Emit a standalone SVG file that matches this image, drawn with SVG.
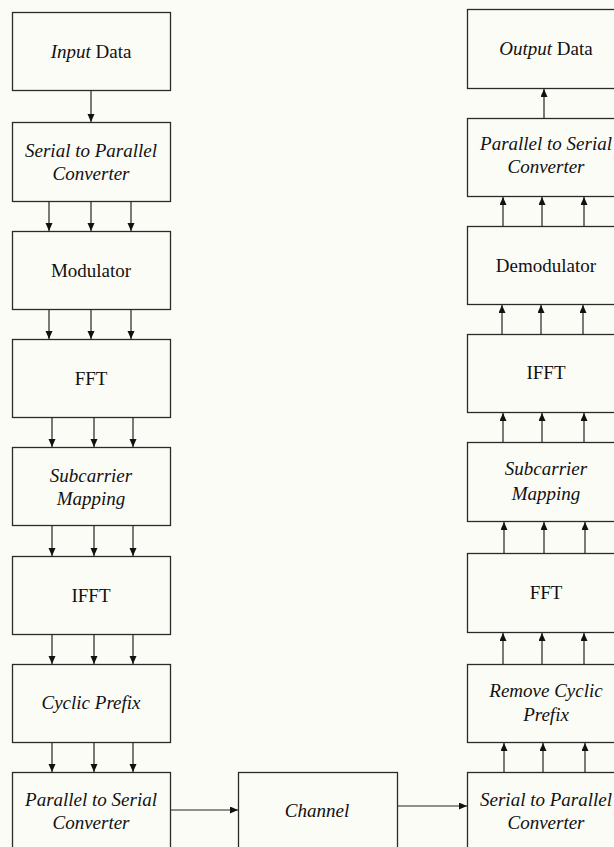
<svg xmlns="http://www.w3.org/2000/svg" width="614" height="847" viewBox="0 0 614 847">
<defs>
<marker id="ah" markerUnits="userSpaceOnUse" markerWidth="8" markerHeight="8" refX="8" refY="3.5" orient="auto">
<path d="M0,0 L8,3.5 L0,7 z" fill="#111"/>
</marker>
<style>
.box{fill:none;stroke:#2a2a2a;stroke-width:1.3}
.t{font-family:"Liberation Serif","Times New Roman",serif;font-size:19px;fill:#111;text-anchor:middle}
.i{font-style:italic}
.c line{stroke:#222;stroke-width:1.2;marker-end:url(#ah)}
</style>
</defs>
<rect x="0" y="0" width="614" height="847" fill="#fcfcf7"/>

<g id="input-data"><rect class="box" x="12.5" y="12.5" width="158" height="78"/><text class="t" x="91" y="58"><tspan class="i">Input</tspan> Data</text></g>
<g id="sp-conv-tx"><rect class="box" x="12.5" y="122.5" width="158" height="79"/><text class="t i" x="91" y="157">Serial to Parallel</text><text class="t i" x="91" y="180">Converter</text></g>
<g id="modulator"><rect class="box" x="12.5" y="231.5" width="158" height="78"/><text class="t" x="91" y="277">Modulator</text></g>
<g id="fft-tx"><rect class="box" x="12.5" y="339.5" width="158" height="78"/><text class="t" x="91" y="385">FFT</text></g>
<g id="subcarrier-tx"><rect class="box" x="12.5" y="447.5" width="158" height="78"/><text class="t i" x="91" y="482">Subcarrier</text><text class="t i" x="91" y="505">Mapping</text></g>
<g id="ifft-tx"><rect class="box" x="12.5" y="556.5" width="158" height="78"/><text class="t" x="91" y="602">IFFT</text></g>
<g id="cyclic-prefix"><rect class="box" x="12.5" y="664.5" width="158" height="78"/><text class="t i" x="91" y="709">Cyclic Prefix</text></g>
<g id="ps-conv-tx"><rect class="box" x="12.5" y="772.5" width="158" height="80"/><text class="t i" x="91" y="806">Parallel to Serial</text><text class="t i" x="91" y="829">Converter</text></g>

<g id="channel"><rect class="box" x="238.5" y="772.5" width="159" height="80"/><text class="t i" x="317" y="817">Channel</text></g>

<g id="output-data"><rect class="box" x="467.5" y="9.5" width="160" height="79"/><text class="t" x="546" y="55"><tspan class="i">Output</tspan> Data</text></g>
<g id="ps-conv-rx"><rect class="box" x="467.5" y="118.5" width="160" height="78"/><text class="t i" x="546" y="150">Parallel to Serial</text><text class="t i" x="546" y="173">Converter</text></g>
<g id="demodulator"><rect class="box" x="467.5" y="226.5" width="160" height="78"/><text class="t" x="546" y="272">Demodulator</text></g>
<g id="ifft-rx"><rect class="box" x="467.5" y="334.5" width="160" height="78"/><text class="t" x="546" y="379">IFFT</text></g>
<g id="subcarrier-rx"><rect class="box" x="467.5" y="442.5" width="160" height="79"/><text class="t i" x="546" y="475">Subcarrier</text><text class="t i" x="546" y="500">Mapping</text></g>
<g id="fft-rx"><rect class="box" x="467.5" y="553.5" width="160" height="79"/><text class="t" x="546" y="599">FFT</text></g>
<g id="remove-cp"><rect class="box" x="467.5" y="664.5" width="160" height="78"/><text class="t i" x="546" y="697">Remove Cyclic</text><text class="t i" x="546" y="721">Prefix</text></g>
<g id="sp-conv-rx"><rect class="box" x="467.5" y="772.5" width="160" height="80"/><text class="t i" x="546" y="806">Serial to Parallel</text><text class="t i" x="546" y="829">Converter</text></g>

<g id="connectors" class="c">
<line x1="91" y1="91" x2="91" y2="122"/>
<line x1="49" y1="202" x2="49" y2="231"/><line x1="91" y1="202" x2="91" y2="231"/><line x1="131" y1="202" x2="131" y2="231"/>
<line x1="49" y1="310" x2="49" y2="339"/><line x1="91" y1="310" x2="91" y2="339"/><line x1="131" y1="310" x2="131" y2="339"/>
<line x1="52" y1="418" x2="52" y2="447"/><line x1="94" y1="418" x2="94" y2="447"/><line x1="133" y1="418" x2="133" y2="447"/>
<line x1="52" y1="526" x2="52" y2="556"/><line x1="94" y1="526" x2="94" y2="556"/><line x1="133" y1="526" x2="133" y2="556"/>
<line x1="52" y1="635" x2="52" y2="664"/><line x1="94" y1="635" x2="94" y2="664"/><line x1="133" y1="635" x2="133" y2="664"/>
<line x1="52" y1="743" x2="52" y2="772"/><line x1="94" y1="743" x2="94" y2="772"/><line x1="133" y1="743" x2="133" y2="772"/>
<line x1="171" y1="810" x2="238" y2="810"/>
<line x1="398" y1="806" x2="467" y2="806"/>
<line x1="504" y1="772" x2="504" y2="743"/><line x1="543" y1="772" x2="543" y2="743"/><line x1="585" y1="772" x2="585" y2="743"/>
<line x1="503" y1="664" x2="503" y2="633"/><line x1="542" y1="664" x2="542" y2="633"/><line x1="584" y1="664" x2="584" y2="633"/>
<line x1="504" y1="553" x2="504" y2="522"/><line x1="544" y1="553" x2="544" y2="522"/><line x1="585" y1="553" x2="585" y2="522"/>
<line x1="503" y1="442" x2="503" y2="413"/><line x1="542" y1="442" x2="542" y2="413"/><line x1="584" y1="442" x2="584" y2="413"/>
<line x1="502" y1="334" x2="502" y2="305"/><line x1="541" y1="334" x2="541" y2="305"/><line x1="583" y1="334" x2="583" y2="305"/>
<line x1="503" y1="226" x2="503" y2="197"/><line x1="542" y1="226" x2="542" y2="197"/><line x1="584" y1="226" x2="584" y2="197"/>
<line x1="544" y1="118" x2="544" y2="89"/>
</g>
</svg>
